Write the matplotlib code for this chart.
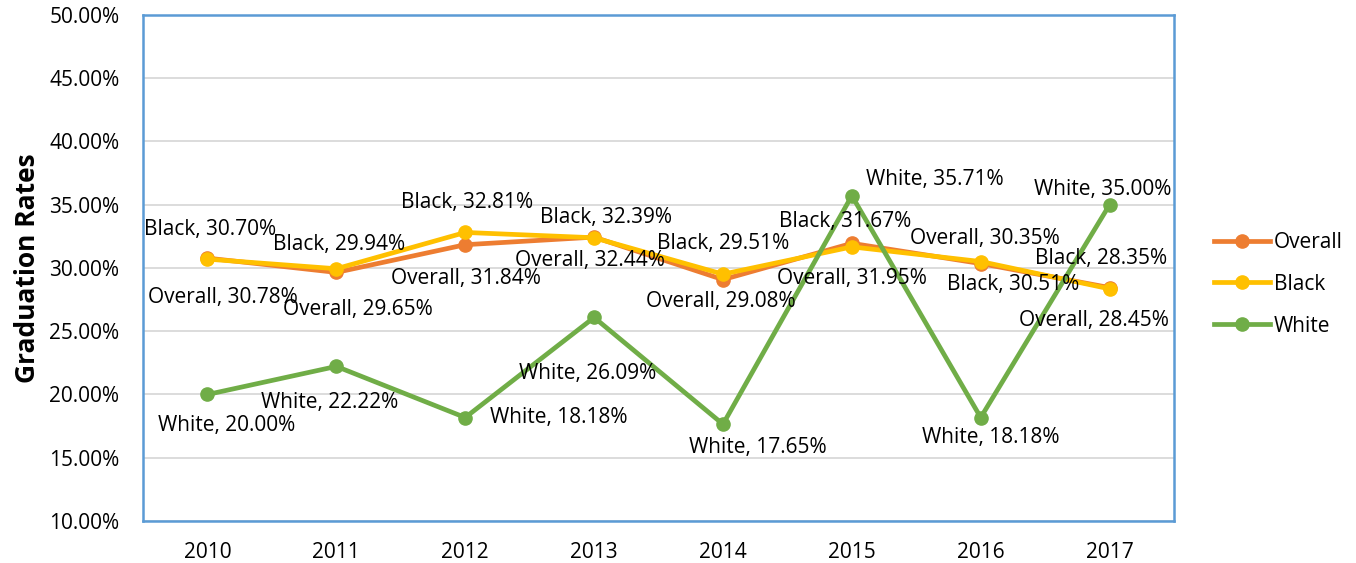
import matplotlib.pyplot as plt
from matplotlib.ticker import PercentFormatter

plt.rcParams["font.family"] = ["Open Sans", "DejaVu Sans"]

years = ["2010", "2011", "2012", "2013", "2014", "2015", "2016", "2017"]
overall = [30.78, 29.65, 31.84, 32.44, 29.08, 31.95, 30.35, 28.45]
black = [30.70, 29.94, 32.81, 32.39, 29.51, 31.67, 30.51, 28.35]
white = [20.00, 22.22, 18.18, 26.09, 17.65, 35.71, 18.18, 35.00]

# label offsets in pixels (dx, dy)
overall_off = [(15, -39), (22, -37), (1, -34), (-4, -23), (-2, -22), (0, -35), (4, 25), (-16, -33)]
black_off = [(3, 30), (3, 24), (2, 30), (12, 20), (0, 31), (-7, 25), (32, -23), (-9, 30)]
white_off = [(19, -31), (-7, -36), (94, 0), (-6, -56), (35, -23), (83, 16), (10, -20), (-7, 15)]

series = [
    ("Overall", overall, overall_off, "#ED7D31"),
    ("Black", black, black_off, "#FFC000"),
    ("White", white, white_off, "#70AD47"),
]

fig = plt.figure(figsize=(13.56, 5.63), dpi=100)
ax = fig.add_axes([0.1055, 0.0746, 0.7603, 0.8988])

x = list(range(len(years)))
for name, vals, offs, color in series:
    ax.plot(x, vals, color=color, linewidth=3.4, marker="o", markersize=9.5, label=name)

for name, vals, offs, color in series:
    for i, v in enumerate(vals):
        ax.annotate(f"{name}, {v:.2f}%", (i, v), xytext=offs[i], textcoords="offset pixels",
                    ha="center", va="center", fontsize=15, color="#000000", zorder=5)

ax.set_xlim(-0.5, 7.5)
ax.set_ylim(10, 50)
ax.set_yticks(range(10, 51, 5))
ax.yaxis.set_major_formatter(PercentFormatter(decimals=2))
ax.set_xticks(x)
ax.set_xticklabels(years)
ax.tick_params(length=0, labelsize=15, colors="#000000")
ax.tick_params(axis="y", pad=17)
ax.tick_params(axis="x", pad=15)
ax.grid(axis="y", color="#D9D9D9", linewidth=1.3)
ax.set_axisbelow(True)
for s in ax.spines.values():
    s.set_color("#5B9BD5")
    s.set_linewidth(1.8)

ax.set_ylabel("Graduation Rates", fontsize=19, fontweight="bold")
ax.yaxis.set_label_coords(-0.099, 0.5)

ax.legend(loc="center left", bbox_to_anchor=(1.039, 0.468), frameon=False, fontsize=15,
          handlelength=2.7, handletextpad=0.15, labelspacing=1.0, borderpad=0, borderaxespad=0)

fig.savefig("out.png", dpi=100)
